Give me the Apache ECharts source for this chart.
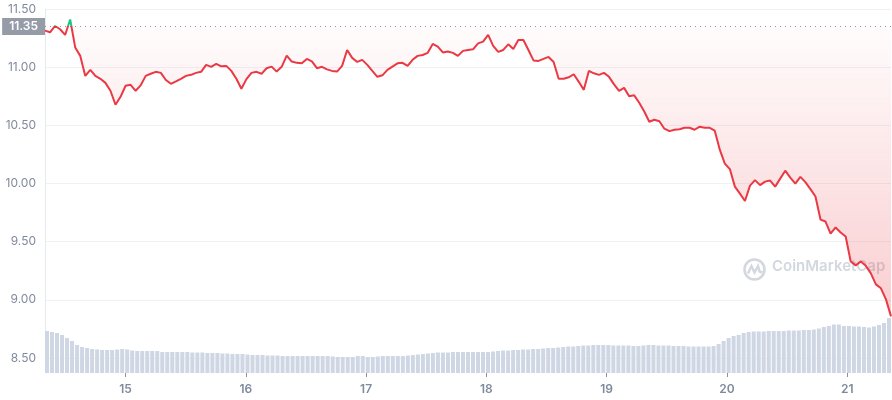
<!DOCTYPE html>
<html>
<head>
<meta charset="utf-8">
<script src="https://cdn.jsdelivr.net/npm/echarts@6/dist/echarts.min.js"></script>
<style>
  html, body { margin: 0; padding: 0; background: #fff; }
  #chart { width: 892px; height: 400px; }
</style>
</head>
<body>
<div id="chart"></div>
<script>
// hourly samples, starting 14 May 08:20
var startTime = new Date(2021, 4, 14, 8, 20).getTime();
var hour = 3600 * 1000;
var openPrice = 11.35;

var prices = [
  11.314, 11.30, 11.354, 11.326, 11.277, 11.41, 11.17, 11.097, 10.925, 10.977,
  10.925, 10.90, 10.865, 10.797, 10.677, 10.745, 10.84, 10.848, 10.797, 10.844,
  10.925, 10.943, 10.96, 10.951, 10.89, 10.857, 10.878, 10.90, 10.925, 10.934,
  10.951, 10.96, 11.02, 11.003, 11.028, 11.007, 11.011, 10.968, 10.90, 10.814,
  10.897, 10.951, 10.96, 10.943, 10.991, 11.005, 10.962, 11.003, 11.10, 11.048,
  11.037, 11.033, 11.071, 11.05, 10.991, 11.003, 10.981, 10.968, 10.962, 11.011,
  11.148, 11.08, 11.045, 11.063, 11.02, 10.968, 10.917, 10.93, 10.977, 11.005,
  11.033, 11.037, 11.011, 11.063, 11.097, 11.105, 11.123, 11.20, 11.177, 11.127,
  11.134, 11.123, 11.097, 11.14, 11.148, 11.153, 11.204, 11.22, 11.277, 11.183,
  11.131, 11.148, 11.196, 11.157, 11.234, 11.234, 11.148, 11.058, 11.054, 11.071,
  11.088, 11.045, 10.90, 10.90, 10.913, 10.939, 10.874, 10.805, 10.968, 10.947,
  10.934, 10.951, 10.917, 10.852, 10.797, 10.822, 10.75, 10.758, 10.694, 10.619,
  10.531, 10.548, 10.535, 10.471, 10.45, 10.462, 10.467, 10.479, 10.479, 10.462,
  10.488, 10.479, 10.479, 10.454, 10.291, 10.171, 10.124, 9.973, 9.913, 9.85,
  9.982, 10.029, 9.986, 10.016, 10.025, 9.973, 10.042, 10.11, 10.05, 9.999,
  10.057, 10.012, 9.952, 9.888, 9.69, 9.673, 9.57, 9.622, 9.579, 9.545,
  9.33, 9.296, 9.33, 9.292, 9.227, 9.133, 9.099, 9.004, 8.858
];

var volumes = [
  42, 41, 40, 38, 35, 32, 28, 26, 25, 24,
  23.5, 23, 23, 23, 23.5, 24, 23.5, 22.5, 22, 22,
  22, 22, 22, 21, 21, 21, 21, 21, 21, 20.5,
  20.5, 20.5, 20, 20, 20, 19.5, 19.5, 19, 19, 19,
  18.5, 18, 18, 18, 17.5, 17.5, 17.5, 17, 17, 17,
  17, 17, 17, 17, 17, 17, 17, 16.5, 16, 16,
  16, 16, 17, 17, 16, 16, 16.5, 17, 17, 17,
  17, 17, 17.5, 18, 18.5, 19, 19.5, 20, 20.5, 20.5,
  20.5, 21, 21, 21, 21, 21, 21, 21, 21, 21.5,
  22, 22.5, 22.5, 23, 23, 23.5, 23.5, 24, 24, 24.5,
  25, 25, 25.5, 26, 26.5, 26.5, 27, 27.5, 27.5, 28,
  28, 28, 28, 27.5, 27.5, 27.5, 27.5, 27, 27, 27.5,
  28, 28, 27.5, 27.5, 27.5, 27, 27, 27, 26.5, 26.5,
  26.5, 26.5, 26.5, 27, 29, 32, 35, 37, 38, 40,
  41, 41.5, 41.5, 41.5, 42, 42, 42, 42, 42.5, 42.5,
  42.5, 43, 43, 43.5, 44.5, 46, 47, 48.5, 48.5, 47,
  47, 46.5, 46.5, 46, 45.5, 46.5, 48, 50, 55
];

var priceData = prices.map(function (p, i) { return [startTime + i * hour, p]; });
// gap up to the opening level, stacked on the price to shade it (nothing where price is above)
var gapData = prices.map(function (p, i) {
    return [startTime + i * hour, Math.max(0, +(openPrice - p).toFixed(3))];
});
var volumeData = volumes.map(function (v, i) { return [startTime + i * hour, v]; });
var endTime = startTime + (prices.length - 1) * hour;

var labelColor = '#808a9d';
var red = '#ea3943';
var green = '#16c784';

var myChart = echarts.init(document.getElementById('chart'));
var option = {
    animation: false,
    grid: [
        {left: 45, right: 1, top: 9, bottom: 42},
        {left: 45, right: 1, top: 290, bottom: 27}
    ],
    xAxis: [
        {
            type: 'time', gridIndex: 0, min: startTime, max: endTime,
            show: false
        },
        {
            type: 'time', gridIndex: 1, min: startTime, max: endTime,
            minInterval: 24 * hour, maxInterval: 24 * hour,
            axisLine: {show: false},
            axisTick: {show: true, length: 4, lineStyle: {color: '#8a91a0'}},
            splitLine: {show: false},
            axisLabel: {
                color: labelColor, fontSize: 12, fontWeight: 600,
                fontFamily: 'Inter', margin: 10,
                formatter: function (v) {
                    var d = new Date(v);
                    if (d.getHours() !== 0 || d.getMinutes() !== 0) return '';
                    return String(d.getDate());
                }
            }
        }
    ],
    yAxis: [
        {
            type: 'value', gridIndex: 0, min: 8.5, max: 11.5, interval: 0.5,
            axisLine: {show: true, lineStyle: {color: '#e6e9ee'}},
            axisTick: {show: false},
            splitLine: {lineStyle: {color: '#eff2f5'}},
            axisLabel: {
                color: labelColor, fontSize: 12, fontFamily: 'Inter', margin: 9,
                formatter: function (v) { return v.toFixed(2); }
            }
        },
        {
            type: 'value', gridIndex: 1, min: 0, max: 83, show: false
        }
    ],
    visualMap: {
        show: false,
        type: 'piecewise',
        seriesIndex: 0,
        dimension: 1,
        pieces: [
            {gte: 0, lt: openPrice, color: red},
            {gte: openPrice, lte: 20, color: green}
        ],
        outOfRange: {color: red}
    },
    graphic: [
        {
            type: 'group', left: 742, top: 257, silent: true, z: 1,
            children: [
                {type: 'circle', shape: {cx: 11, cy: 11, r: 10},
                 style: {fill: 'none', stroke: '#d3d8df', lineWidth: 2.6}},
                {type: 'polyline', shape: {points: [[4.5, 15], [8, 7.5], [11, 14], [14.5, 7.5], [16, 13], [19, 14]]},
                 style: {fill: 'none', stroke: '#d3d8df', lineWidth: 2.4}}
            ]
        },
        {
            type: 'text', left: 772, top: 259, silent: true, z: 1,
            style: {text: 'CoinMarketCap', fill: '#d3d8df', font: '600 15px Inter'}
        }
    ],
    series: [
        {
            type: 'line',
            xAxisIndex: 0, yAxisIndex: 0,
            data: priceData,
            showSymbol: false,
            z: 5,
            lineStyle: {width: 2},
            markLine: {
                silent: true,
                symbol: 'none',
                lineStyle: {color: '#8e95a3', type: [1, 4], width: 1},
                label: {
                    position: 'start', distance: 0,
                    formatter: function () { return openPrice.toFixed(2); },
                    backgroundColor: '#959ca8', color: '#fff',
                    fontFamily: 'Inter', fontSize: 12, fontWeight: 600,
                    padding: [3, 7, 2, 7]
                },
                data: [{yAxis: openPrice}]
            }
        },
        {
            type: 'line',
            xAxisIndex: 0, yAxisIndex: 0,
            data: priceData,
            stack: 'shade',
            showSymbol: false,
            silent: true,
            z: 3,
            lineStyle: {opacity: 0}
        },
        {
            type: 'line',
            xAxisIndex: 0, yAxisIndex: 0,
            data: gapData,
            stack: 'shade',
            showSymbol: false,
            silent: true,
            z: 3,
            lineStyle: {opacity: 0},
            areaStyle: {
                color: new echarts.graphic.LinearGradient(0, 25, 0, 320, [
                    {offset: 0, color: 'rgba(234,57,67,0.02)'},
                    {offset: 1, color: 'rgba(234,57,67,0.36)'}
                ], true)
            }
        },
        {
            type: 'bar',
            xAxisIndex: 1, yAxisIndex: 1,
            data: volumeData,
            barWidth: 4,
            z: 2,
            itemStyle: {color: '#cfd6e4'}
        }
    ]
};

myChart.setOption(option);
</script>
</body>
</html>
